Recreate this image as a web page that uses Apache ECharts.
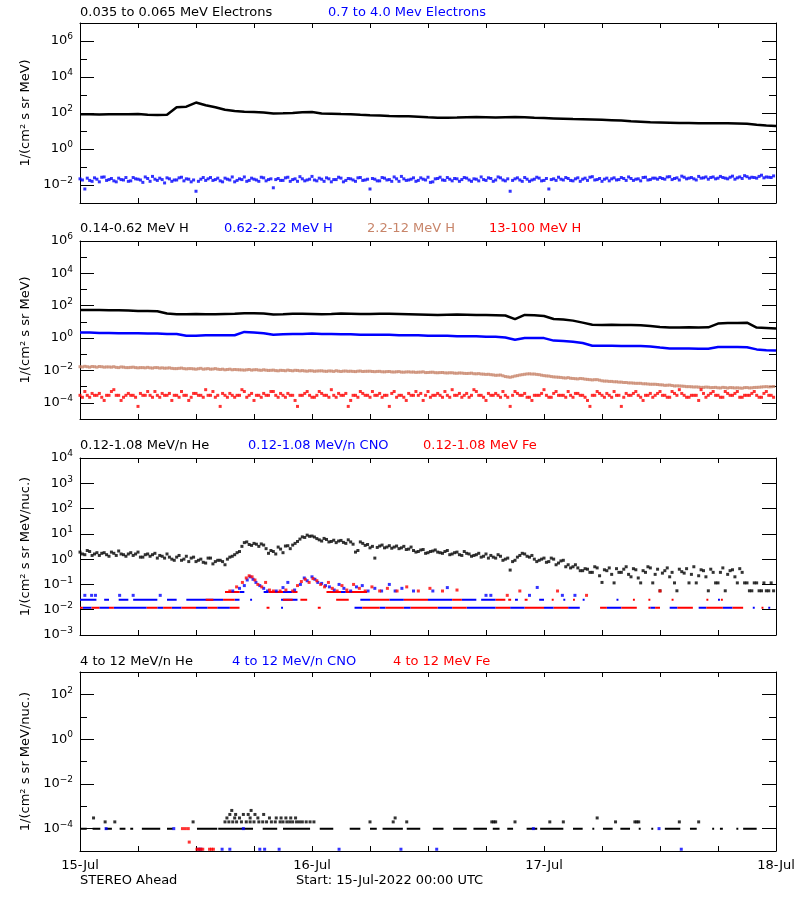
<!DOCTYPE html>
<html><head><meta charset="utf-8">
<script src="https://cdn.jsdelivr.net/npm/echarts@6/dist/echarts.min.js"></script>
<style>html,body{margin:0;padding:0;background:#fff}#c{width:800px;height:900px}</style>
</head><body><div id="c"></div>
<script>
// ---------------- DATA (hours since 15-Jul-2022 00:00 UTC) ----------------
const dayLabels = ['15-Jul', '16-Jul', '17-Jul', '18-Jul'];
const hourStep = 1, halfStep = 0.5;

// Panel 1: electrons
const eLow = [85,85,82,86,86,84,88,80,78,80, 210,225,380,270,210,150,130,118,112,105,
  95,97,100,110,115,95,92,88,86,80, 75,72,68,66,65,62,58,55,55,56,
  58,60,58,56,58,60,58,54,52,50, 48,46,45,44,42,40,38,35,33,31,
  30,29,28,28,27,27,27,27,26,25, 22,20,19];
// 0.7-4.0 MeV electrons: samples on the hour/half hour (A) and at quarter past/to (B)
const eHighA = [
  .022,.006,.018,.025,.015,.028,.020,.017,.024,.019,
  .016,.026,.021,.014,.023,.030,.018,.020,.025,.016,
  .019,.027,.022,.015,.0045,.021,.018,.026,.020,.017,
  .024,.019,.015,.022,.028,.018,.021,.016,.025,.020,
  .007,.023,.018,.027,.020,.016,.022,.019,.030,.017,
  .021,.025,.015,.020,.024,.018,.022,.016,.026,.019,
  .006,.021,.017,.024,.020,.028,.016,.022,.019,.025,
  .018,.021,.027,.015,.023,.019,.026,.017,.022,.020,
  .024,.016,.021,.028,.018,.023,.019,.025,.017,.0045,
  .022,.019,.026,.016,.021,.024,.018,.006,.022,.027,
  .019,.023,.017,.025,.021,.018,.029,.020,.016,.024,
  .022,.019,.026,.018,.023,.021,.017,.027,.020,.024,
  .026,.021,.029,.023,.019,.027,.024,.022,.030,.025,
  .021,.028,.024,.026,.022,.031,.025,.023,.029,.027,
  .024,.035,.028,.026];
const eHighB = [
  .019,.024,.016,.021,.027,.018,.023,.015,.020,.026,
  .017,.022,.019,.028,.016,.021,.024,.013,.022,.019,
  .025,.017,.021,.019,.016,.026,.022,.018,.024,.015,
  .021,.028,.018,.020,.016,.024,.019,.027,.017,.022,
  .020,.018,.025,.016,.022,.029,.017,.021,.019,.024,
  .016,.022,.020,.027,.015,.023,.019,.025,.018,.021,
  .023,.017,.026,.019,.016,.022,.030,.018,.021,.016,
  .025,.019,.014,.022,.027,.018,.021,.023,.016,.026,
  .019,.022,.017,.020,.025,.016,.028,.019,.022,.018,
  .025,.016,.021,.019,.027,.017,.023,.020,.018,.021,
  .026,.018,.022,.016,.024,.027,.019,.023,.021,.017,
  .025,.020,.023,.028,.018,.022,.026,.019,.024,.021,
  .023,.028,.020,.025,.031,.022,.026,.019,.024,.028,
  .026,.022,.030,.024,.027,.021,.028,.033,.024,.026,
  .030,.025,.027,.032];

// Panel 2: protons
const hA = [55,55,54,53,52,50,48,47,46,33, 30,30,31,30,30,31,32,34,34,33,
  29,30,32,32,31,30,31,33,32,31, 31,32,32,31,30,29,28,27,28,29,
  28,27,27,26,25,15,27,26,23,15, 14,12,9,6.6,6.5,6.6,6.4,6.5,6.2,5.5,
  4.8,4.5,4.5,4.6,4.5,4.6,7.9,8.5,8.5,9, 4.5,4.2,3.9];
const hB = [2.2,2.2,2.1,2.1,2.0,2.0,2.0,1.9,1.9,1.8, 1.8,1.4,1.4,1.5,1.5,1.5,1.5,2.4,2.2,2.0,
  1.6,1.7,1.8,1.8,1.9,1.8,1.8,1.7,1.7,1.6, 1.6,1.6,1.6,1.5,1.5,1.5,1.4,1.4,1.4,1.3,
  1.3,1.3,1.2,1.2,1.1,0.8,1.0,1.0,1.0,0.7, 0.65,0.6,0.5,0.34,0.34,0.34,0.33,0.33,0.32,0.3,
  0.26,0.23,0.23,0.23,0.22,0.22,0.28,0.28,0.28,0.27, 0.2,0.18,0.17];
const hCA = [
  .017,.018,.016,.017,.0175,.016,.0165,.017,.015,.016,
  .015,.016,.0145,.015,.0155,.014,.015,.0145,.014,.0135,
  .013,.014,.0125,.013,.012,.0135,.0125,.012,.013,.0115,
  .011,.012,.0115,.011,.0105,.0115,.011,.0105,.011,.010,
  .0105,.0095,.010,.0105,.0095,.010,.0098,.009,.0095,.0092,
  .0095,.0088,.0092,.0096,.0086,.0092,.009,.0085,.0092,.0088,
  .009,.0084,.0088,.0082,.0086,.008,.0085,.0078,.0082,.008,
  .0078,.0082,.0075,.0078,.0072,.0075,.007,.0072,.0067,.0069,
  .0065,.0068,.0062,.006,.0057,.0055,.005,.0052,.0042,.0038,
  .0045,.0052,.0058,.0062,.006,.0055,.0048,.0045,.004,.0038,
  .0035,.0036,.0032,.003,.0031,.0028,.0026,.0027,.0023,.0022,
  .0021,.002,.0019,.0018,.0017,.0016,.0016,.0015,.0014,.0014,
  .0013,.0012,.00125,.0011,.0011,.00105,.001,.00095,.00093,.0009,
  .00092,.00088,.00085,.0009,.00082,.00086,.00085,.0008,.00088,.00085,
  .0009,.00095,.001,.00098];
const hCB = [
  .0165,.017,.0175,.016,.017,.0165,.016,.0155,.0165,.015,
  .0155,.015,.015,.0145,.0145,.015,.014,.0138,.0145,.013,
  .0135,.013,.013,.0125,.0128,.012,.013,.0122,.012,.012,
  .0115,.011,.0112,.0108,.011,.0105,.0112,.0102,.0104,.0102,
  .0098,.0102,.0096,.0099,.0102,.0094,.0093,.0096,.0089,.0094,
  .009,.0093,.0087,.009,.0091,.0088,.0087,.009,.0086,.0089,
  .0086,.0087,.0083,.0085,.0081,.0083,.0079,.0081,.0079,.0076,
  .0079,.0074,.0077,.0073,.0074,.0071,.0072,.0068,.007,.0066,
  .0066,.0063,.0064,.0059,.0058,.0053,.0051,.0047,.004,.0041,
  .0048,.0055,.0061,.006,.0057,.0051,.0046,.0042,.0039,.0037,
  .0034,.0033,.0031,.0032,.0029,.0027,.0027,.0025,.0022,.0021,
  .002,.0019,.0018,.0017,.00165,.0016,.0015,.00145,.0014,.00135,
  .00128,.00122,.00118,.00112,.00108,.001,.00098,.00096,.0009,.00094,
  .00087,.0009,.00083,.00087,.00088,.00083,.00082,.00087,.00083,.00089,
  .00092,.00098,.00097,.00102];
const hDA = [
  2.9e-4,5e-4,2.2e-4,2.9e-4,3.8e-4,1.4e-4,2.9e-4,6.5e-4,2.9e-4,2.2e-4,
  3.8e-4,2.9e-4,6e-5,2.9e-4,5e-4,2.2e-4,2.9e-4,3.8e-4,2.9e-4,1.4e-4,
  2.9e-4,5e-4,2.9e-4,2.2e-4,3.8e-4,2.9e-4,6.5e-4,2.9e-4,2.2e-4,6e-5,
  2.9e-4,3.8e-4,2.2e-4,2.9e-4,5e-4,2.9e-4,1.4e-4,2.9e-4,3.8e-4,2.9e-4,
  5e-4,2.2e-4,2.9e-4,3.8e-4,2.9e-4,6e-5,2.9e-4,5e-4,2.2e-4,2.9e-4,
  3.8e-4,2.9e-4,6.5e-4,2.2e-4,2.9e-4,3.8e-4,1.4e-4,2.9e-4,5e-4,2.9e-4,
  2.2e-4,2.9e-4,3.8e-4,2.9e-4,6e-5,5e-4,2.9e-4,2.2e-4,3.8e-4,2.9e-4,
  2.9e-4,1.4e-4,5e-4,2.9e-4,3.8e-4,2.2e-4,2.9e-4,6.5e-4,2.9e-4,2.2e-4,
  3.8e-4,2.9e-4,5e-4,2.9e-4,1.4e-4,2.9e-4,3.8e-4,2.2e-4,2.9e-4,6e-5,
  5e-4,2.9e-4,3.8e-4,2.2e-4,2.9e-4,2.9e-4,6.5e-4,2.2e-4,3.8e-4,2.9e-4,
  2.9e-4,5e-4,2.2e-4,3.8e-4,2.9e-4,1.4e-4,2.9e-4,5e-4,2.9e-4,3.8e-4,
  2.2e-4,2.9e-4,6e-5,3.8e-4,2.9e-4,5e-4,2.2e-4,2.9e-4,3.8e-4,2.9e-4,
  5e-4,2.9e-4,2.2e-4,3.8e-4,6.5e-4,2.9e-4,2.2e-4,2.9e-4,1.4e-4,3.8e-4,
  2.9e-4,5e-4,2.9e-4,2.2e-4,3.8e-4,2.9e-4,5e-4,2.2e-4,2.9e-4,3.8e-4,
  2.9e-4,2.2e-4,5e-4,2.9e-4];
const hDB = [
  2.2e-4,2.9e-4,3.8e-4,2.9e-4,2.2e-4,2.9e-4,5e-4,2.9e-4,1.4e-4,2.9e-4,
  2.9e-4,2.2e-4,3.8e-4,2.9e-4,2.9e-4,5e-4,2.2e-4,2.9e-4,3.8e-4,2.9e-4,
  2.2e-4,2.9e-4,1.4e-4,3.8e-4,2.9e-4,2.2e-4,2.9e-4,5e-4,2.9e-4,3.8e-4,
  2.2e-4,2.9e-4,2.9e-4,6.5e-4,2.2e-4,3.8e-4,2.9e-4,2.2e-4,2.9e-4,5e-4,
  2.9e-4,3.8e-4,2.2e-4,2.9e-4,1.4e-4,2.9e-4,3.8e-4,2.9e-4,2.2e-4,5e-4,
  2.9e-4,2.2e-4,2.9e-4,3.8e-4,2.9e-4,6e-5,2.9e-4,2.2e-4,3.8e-4,2.9e-4,
  5e-4,2.9e-4,2.2e-4,2.9e-4,3.8e-4,2.2e-4,2.9e-4,1.4e-4,2.9e-4,5e-4,
  3.8e-4,2.9e-4,2.2e-4,2.9e-4,2.9e-4,5e-4,2.2e-4,2.9e-4,3.8e-4,2.9e-4,
  2.2e-4,6.5e-4,2.9e-4,2.2e-4,3.8e-4,2.9e-4,2.9e-4,5e-4,2.2e-4,2.9e-4,
  3.8e-4,2.9e-4,2.2e-4,1.4e-4,2.9e-4,3.8e-4,2.9e-4,2.2e-4,5e-4,2.9e-4,
  2.2e-4,2.9e-4,3.8e-4,2.9e-4,2.2e-4,6e-5,2.9e-4,3.8e-4,2.2e-4,2.9e-4,
  5e-4,2.9e-4,2.2e-4,2.9e-4,3.8e-4,2.9e-4,1.4e-4,2.9e-4,2.2e-4,3.8e-4,
  2.9e-4,2.2e-4,5e-4,2.9e-4,3.8e-4,2.2e-4,2.9e-4,2.9e-4,6.5e-4,2.2e-4,
  3.8e-4,2.9e-4,2.2e-4,5e-4,2.9e-4,3.8e-4,2.2e-4,2.9e-4,2.9e-4,5e-4,
  2.2e-4,3.8e-4,2.9e-4,2.2e-4];

// Panel 3: 0.12-1.08 MeV/n heavy ions
const heLowA = [1.9,1.5,2.0,1.6,1.4, 1.8,1.3,1.7,2.1,1.5,1.6, 1.4,1.9,1.2,1.6,1.5,1.1, 1.3,1.6,1.0,1.2,
  0.9,1.3,1.1,0.8, 1.0,0.7,1.1,0.8, 0.9,0.6,1.2,1.5, 2.0,4.5,3.8,4.2, 3.2,3.6,1.7,2.0,
  3.0,1.8,3.4,3.6, 5.0,7.6,8.9,8.2, 6.5,5.2,6.0,5.0, 4.5,5.5,4.2,4.8, 1.9,4.8,3.5,2.8,
  1.1,3.3,2.8,3.4, 3.0,2.6,3.2,2.5, 2.2,2.0,2.4,1.8, 2.1,1.9,1.7,2.2, 1.6,1.9,1.4,1.7,
  1.3,1.5,1.2,1.6, 1.4,1.1,1.3,1.0, 0.37,0.9,1.4,1.6, 1.2,1.0,0.9,1.1, 0.8,1.0,0.7,0.9,
  0.6,0.5,0.45,0.35, 0.4,0.3,0.45,0.12, 0.35,0.25,0.42,0.3, 0.5,0.2,0.38,0.115,
  0.3,0.45,0.25,0.056, 0.35,0.2,0.115,0.4, 0.28,0.115,0.5,0.22, 0.35,0.056,0.3,0.115,
  0.45,0.25,0.38,0.115, 0.3,0.115,0.056,0.115, 0.056,0.056,0.115];
const heLowB = [1.6,2.2,1.4,1.8,1.7, 1.5,1.9,1.4,1.6,1.3,1.8, 1.6,1.2,1.5,1.3,1.7,1.4, 1.1,1.2,0.9,1.4,
  1.0,0.8,1.2,0.9, 0.75,1.1,0.65,0.9, 0.8,1.0,1.3,1.8, 3.2,4.8,3.5,3.9, 4.0,2.6,2.2,1.6,
  2.5,3.3,2.6,4.2, 6.2,7.2,8.0,7.5, 5.8,6.6,4.8,5.6, 5.2,4.6,5.8,3.9, 2.2,4.2,3.8,3.2,
  2.9,3.6,3.0,2.7, 3.3,2.8,2.4,3.0, 1.9,2.3,1.7,2.0, 2.3,1.8,2.0,1.5, 1.8,1.5,2.0,1.6,
  1.4,1.7,1.3,1.1, 1.2,1.5,0.9,1.1, 0.8,1.2,1.7,1.3, 1.4,0.8,1.0,0.75, 1.1,0.6,0.85,0.5,
  0.45,0.6,0.35,0.42, 0.3,0.5,0.22,0.38, 0.45,0.115,0.3,0.4, 0.25,0.42,0.18,0.35,
  0.5,0.115,0.4,0.28, 0.45,0.3,0.056,0.32, 0.42,0.25,0.115,0.38, 0.2,0.4,0.115,0.3,
  0.056,0.35,0.2,0.42, 0.115,0.056,0.115,0.056, 0.115,0.056,0.056];
const lowLevels = [0.012, 0.025, 0.05];   // quantized count levels
const cnoRuns0 = [[0.3,1.2],[2.0,3.0],[3.5,6.9],[8.0,8.6],[9.5,10.5],[12.0,13.2],[14.2,15.5],[20.8,21.0],[28.4,29.2],[31.0,31.6],[33.5,34.2],[37.0,38.5],[40.0,41.5],[41.5,43.0],[44.5,46.0],[48.0,49.0],[50.5,51.7],[54.5,56.0],[59.0,59.5],[61.0,61.8],[64.0,64.8],[66.5,67.5],[69.6,69.8],[71.2,71.4]];
const feRuns0 = [[0,0.3],[1.2,2.0],[3.0,3.5],[6.9,8.0],[8.6,9.5],[10.5,12.0],[13.2,14.2],[15.5,16.5],[19.3,19.6],[24.6,24.9],[29.2,31.0],[31.6,33.5],[34.2,37.0],[38.5,40.0],[43.0,44.5],[46.0,48.0],[49.0,50.5],[53.8,54.5],[56.0,57.6],[58.8,59.0],[59.5,60.0],[61.8,63.4],[64.8,66.5],[67.5,68.6],[70.5,70.7]];
const cnoRuns1 = [[0,1.7],[2.5,3.0],[4.0,5.0],[5.5,8.0],[9.0,10.0],[11.0,14.8],[16.0,16.5],[17.6,17.8],[20.8,22.5],[29.0,30.0],[32.0,33.5],[36.0,38.5],[39.5,41.0],[41.5,43.0],[45.0,45.3],[47.5,48.0],[50.0,50.2],[52.0,52.2],[55.5,55.7],[66.0,66.2]];
const feRuns1 = [[13.0,13.8],[14.8,16.0],[21.0,22.0],[22.8,23.5],[26.5,27.8],[30.0,32.0],[33.5,36.0],[38.5,39.5],[43.0,44.0],[44.3,44.6],[46.0,46.3],[48.8,49.0],[51.0,51.2],[57.2,57.4],[58.8,59.0],[61.2,61.4],[64.8,65.0],[66.3,66.5]];
const cnoRuns2 = [[16.5,17.0],[19.0,19.5],[21.0,22.0],[27.0,27.5]];
const feRuns2 = [[15.0,16.5],[19.5,21.0],[22.0,22.5],[25.5,27.0],[27.5,29.7]];
const cnoLowT = [0.5,1.2,1.6,4.1,5.5,8.3,15.8,16.5,17.0,17.3,17.6,17.9,18.2,18.6,19.0,19.4,20.3,21.0,21.5,22.2,22.8,23.2,23.5,24.0,24.3,24.6,25.0,25.4,25.8,26.3,26.8,27.3,28.0,28.6,29.2,29.8,30.5,31.2,32.0,32.6,33.3,34.5,36.5,38.0,42.0,42.5,46.5,47.3,49.9,51.2];
const cnoLowV = [0.037,0.037,0.037,0.037,0.037,0.037,0.055,0.07,0.09,0.15,0.2,0.16,0.12,0.09,0.07,0.055,0.055,0.075,0.12,0.06,0.1,0.18,0.14,0.2,0.16,0.12,0.11,0.09,0.08,0.06,0.1,0.07,0.055,0.08,0.09,0.055,0.07,0.055,0.1,0.055,0.07,0.055,0.055,0.075,0.037,0.037,0.037,0.076,0.037,0.037];
const feLowT = [15.5,16.2,16.8,17.2,17.5,17.8,18.1,18.4,18.8,19.2,19.6,20.0,20.7,21.3,22.0,22.5,22.9,23.3,23.7,24.1,24.5,24.9,25.3,25.7,26.1,26.6,27.1,27.6,28.3,28.9,29.5,30.2,31.0,31.8,32.8,33.8,35.0,36.2,37.5,39.0,44.2,45.5,49.4,52.4,60.0];
const feLowV = [0.055,0.08,0.12,0.18,0.22,0.2,0.15,0.1,0.08,0.12,0.06,0.055,0.055,0.06,0.055,0.09,0.13,0.16,0.12,0.17,0.14,0.1,0.08,0.12,0.07,0.055,0.09,0.06,0.1,0.07,0.055,0.08,0.055,0.07,0.055,0.08,0.055,0.07,0.055,0.06,0.037,0.055,0.055,0.037,0.055];

// Panel 4: 4-12 MeV/n heavy ions
const hiBase = 1e-4;
const heHiRuns = [[0,0.7],[1.3,2.1],[2.6,3.3],[4.1,4.7],[5.2,5.5],[6.4,8.3],[9.0,9.6],[12.1,14.2],[14.3,17.9],[18.9,20.4],[21.0,23.8],[24.8,26.2],[27.9,29.0],[30.0,30.7],[31.3,33.4],[33.8,35.2],[36.5,37.6],[38.6,40.0],[40.7,42.1],[42.7,43.4],[44.2,44.8],[46.2,47.3],[47.6,50.0],[51.0,52.0],[53.0,53.2],[54.1,55.1],[55.9,56.9],[57.8,58.0],[59.1,59.3],[60.5,62.1],[63.1,63.8],[65.4,65.6],[66.2,66.5],[67.9,68.1],[68.6,70.0]];
const heHiT = [1.4,2.6,3.6,11.7,15.0,15.4,15.8,16.2,16.7,17.2,17.6,18.0,18.5,18.9,19.3,19.8,20.2,20.7,21.0,21.4,21.7,22.0,22.4,22.7,23.0,23.4,23.8,24.2,
  15.2,16.0,16.5,17.6,18.4,19.6,20.3,20.8,21.3,21.8,22.3, 15.5,16.1,16.9,17.4,18.1,19.0, 15.7,17.7,
  30.0,32.4,32.6,33.8,42.6,42.8,43.0,45.0,48.6,50.0,53.5,55.4,57.4,57.6,57.8,62.0,64.0];
const heHiV = [3e-4,2e-4,2e-4,2e-4,2e-4,2e-4,2e-4,2e-4,2e-4,2e-4,2e-4,2e-4,2e-4,2e-4,2e-4,2e-4,2e-4,2e-4,2e-4,2e-4,2e-4,2e-4,2e-4,2e-4,2e-4,2e-4,2e-4,2e-4,
  3e-4,3e-4,3e-4,3e-4,3e-4,3e-4,3e-4,3e-4,3e-4,3e-4,3e-4, 4.3e-4,4.3e-4,4.3e-4,4.3e-4,4.3e-4,4.3e-4, 6.5e-4,6.5e-4,
  2e-4,2e-4,3e-4,2e-4,2e-4,2e-4,2e-4,2e-4,2e-4,2e-4,3e-4,2e-4,2e-4,2e-4,2e-4,2e-4,2e-4];
const cnoHiT = [2.7,9.7,16.9,46.9,59.9, 12.3,12.5,14.7,15.5,18.6,19.1,20.6,26.8,33.2,36.9,62.2];
const cnoHiV = [1e-4,1e-4,1e-4,1e-4,1e-4, 1.2e-5,1.2e-5,1.2e-5,1.2e-5,1.2e-5,1.2e-5,1.2e-5,1.2e-5,1.2e-5,1.2e-5,1.2e-5];
const feHiT = [10.6,10.9,11.2,11.3,12.1,12.3,12.5,12.7,13.4,13.6,13.8];
const feHiV = [1e-4,1e-4,1e-4,2.5e-5,1.2e-5,1.2e-5,1.2e-5,1.2e-5,1.2e-5,1.2e-5,1.2e-5];

// Axis ticks (log decades)
const panels = [
  {min:1e-3, max:1e7, major:[1e-2,1,1e2,1e4,1e6], minor:[1e-1,1e1,1e3,1e5], name:'1/(cm² s sr MeV)'},
  {min:1e-5, max:1e6, major:[1e-4,1e-2,1,1e2,1e4,1e6], minor:[1e-3,1e-1,1e1,1e3,1e5], name:'1/(cm² s sr MeV)'},
  {min:1e-3, max:1e4, major:[1e-3,1e-2,1e-1,1,1e1,1e2,1e3,1e4], minor:[], name:'1/(cm² s sr MeV/nuc.)'},
  {min:1e-5, max:1e3, major:[1e-4,1e-2,1,1e2], minor:[1e-3,1e-1,1e1], name:'1/(cm² s sr MeV/nuc.)'}
];
const titles = [
  [['0.035 to 0.065 MeV Electrons','#000',80],['0.7 to 4.0 Mev Electrons','#0000ff',328]],
  [['0.14-0.62 MeV H','#000',80],['0.62-2.22 MeV H','#0000ff',224],['2.2-12 MeV H','#c8856a',367],['13-100 MeV H','#ff0000',489]],
  [['0.12-1.08 MeV/n He','#000',80],['0.12-1.08 MeV/n CNO','#0000ff',248],['0.12-1.08 MeV Fe','#ff0000',423]],
  [['4 to 12 MeV/n He','#000',80],['4 to 12 MeV/n CNO','#0000ff',232],['4 to 12 MeV Fe','#ff0000',393]]
];

// ---------------- LAYOUT / STYLE ----------------
const FONT = 'DejaVu Sans';
const layout = [{top:23,h:180,ty:13},{top:241,h:178,ty:229},{top:458,h:177,ty:446},{top:672,h:179,ty:662}];
const SIENNA = '#c8856a';

const grid = layout.map(l => ({left:80, width:696, top:l.top, height:l.h, containLabel:false}));
const xAxis = [], yAxis = [];
layout.forEach((l, gi) => {
  const bx = {type:'value', min:0, max:72, interval:6, gridIndex:gi, splitLine:{show:false},
    axisLine:{show:true, onZero:false, lineStyle:{color:'#000', width:1}},
    axisTick:{show:true, inside:true, length:5, lineStyle:{color:'#000'}}};
  xAxis.push(Object.assign({}, bx, {position:'bottom',
    axisLabel:{show: gi === 3, showMinLabel:true, showMaxLabel:true, margin:8, color:'#000', fontFamily:FONT, fontSize:13,
      formatter: v => (v % 24 === 0 ? dayLabels[v / 24] : '')}}));
  xAxis.push(Object.assign({}, bx, {position:'top', axisLabel:{show:false}}));
  const p = panels[gi];
  const by = {type:'log', logBase:10, min:p.min, max:p.max, gridIndex:gi, splitLine:{show:false}};
  const tickStyle = {color:'#000', width:1};
  yAxis.push(Object.assign({}, by, {position:'left',
    axisLine:{show:true, lineStyle:{color:'#000'}},
    axisTick:{show:true, inside:true, length:14, customValues:p.major, lineStyle:tickStyle},
    axisLabel:{show:true, customValues:p.major, margin:7, color:'#000',
      formatter: v => { const e = Math.round(Math.log10(v)); return '{b|10}{e|' + (e < 0 ? '\u2212' + (-e) : e) + '}'; },
      rich:{b:{fontFamily:FONT, fontSize:13, color:'#000', lineHeight:13}, e:{fontFamily:FONT, fontSize:9, color:'#000', lineHeight:9, padding:[0,0,8,0]}}},
    name:p.name, nameLocation:'middle', nameRotate:90, nameGap:40,
    nameTextStyle:{fontFamily:FONT, fontSize:13, color:'#000'}}));
  yAxis.push(Object.assign({}, by, {position:'left', axisLine:{show:false},
    axisTick:{show:p.minor.length > 0, inside:true, length:7, customValues:p.minor.length ? p.minor : [p.min], lineStyle:tickStyle},
    axisLabel:{show:false}}));
  yAxis.push(Object.assign({}, by, {position:'right', axisLine:{show:true, lineStyle:{color:'#000'}},
    axisTick:{show:true, inside:true, length:14, customValues:p.major, lineStyle:tickStyle}, axisLabel:{show:false}}));
  yAxis.push(Object.assign({}, by, {position:'right', axisLine:{show:false},
    axisTick:{show:p.minor.length > 0, inside:true, length:7, customValues:p.minor.length ? p.minor : [p.min], lineStyle:tickStyle},
    axisLabel:{show:false}}));
});

// ---------------- SERIES ----------------
const seq = (arr, step, off) => arr.map((v, i) => [i * step + (off || 0), v]);
const pairs = (ts, vs) => ts.map((t, i) => [t, vs[i]]);
const runs = (list, lvl) => { const o = []; list.forEach(r => { o.push([r[0], lvl], [r[1], lvl], [r[1], '-']); }); return o; };
const line = (gi, data, color, w) => ({type:'line', xAxisIndex:gi*2, yAxisIndex:gi*4, data, symbol:'none', showSymbol:false,
  connectNulls:false, lineStyle:{color, width:w, cap:'butt'}, silent:true, animation:false, z:3});
const dots = (gi, data, color, size) => ({type:'scatter', xAxisIndex:gi*2, yAxisIndex:gi*4, data, symbol:'rect',
  symbolSize:size, itemStyle:{color}, silent:true, animation:false, z:3});

const series = [
  line(0, seq(eLow, hourStep), '#000', 2.5),
  dots(0, seq(eHighA, halfStep), '#0000ff', 3),
  dots(0, seq(eHighB, halfStep, 0.25), '#0000ff', 3),
  line(1, seq(hA, hourStep), '#000', 2.5),
  line(1, seq(hB, hourStep), '#0000ff', 2.5),
  dots(1, seq(hCA, halfStep), SIENNA, 3),
  dots(1, seq(hCB, halfStep, 0.25), SIENNA, 3),
  dots(1, seq(hDA, halfStep), '#ff0000', 3),
  dots(1, seq(hDB, halfStep, 0.25), '#ff0000', 3),
  dots(2, seq(heLowA, halfStep), '#000', 3),
  dots(2, seq(heLowB, halfStep, 0.25), '#000', 3),
  line(2, runs(cnoRuns0, lowLevels[0]), '#0000ff', 2),
  line(2, runs(feRuns0, lowLevels[0]), '#ff0000', 2),
  line(2, runs(cnoRuns1, lowLevels[1]), '#0000ff', 2),
  line(2, runs(feRuns1, lowLevels[1]), '#ff0000', 2),
  line(2, runs(cnoRuns2, lowLevels[2]), '#0000ff', 2),
  line(2, runs(feRuns2, lowLevels[2]), '#ff0000', 2),
  dots(2, pairs(cnoLowT, cnoLowV), '#0000ff', 3),
  dots(2, pairs(feLowT, feLowV), '#ff0000', 3),
  line(3, runs(heHiRuns, hiBase), '#000', 2),
  dots(3, pairs(heHiT, heHiV), '#000', 3),
  dots(3, pairs(cnoHiT, cnoHiV), '#0000ff', 3),
  dots(3, pairs(feHiT, feHiV), '#ff0000', 3)
];

// ---------------- TEXT ----------------
const graphic = [];
titles.forEach((row, gi) => row.forEach(t => graphic.push({type:'text', x:t[2], y:layout[gi].ty,
  style:{text:t[0], fill:t[1], fontFamily:FONT, fontSize:13, verticalAlign:'middle'}})));
graphic.push({type:'text', x:80, y:881, style:{text:'STEREO Ahead', fill:'#000', fontFamily:FONT, fontSize:13, verticalAlign:'middle'}});
graphic.push({type:'text', x:296, y:881, style:{text:'Start: 15-Jul-2022 00:00 UTC', fill:'#000', fontFamily:FONT, fontSize:13, verticalAlign:'middle'}});

const chart = echarts.init(document.getElementById('c'), null, {renderer:'canvas'});
chart.setOption({backgroundColor:'#fff', animation:false, grid, xAxis, yAxis, series, graphic});
</script></body></html>
